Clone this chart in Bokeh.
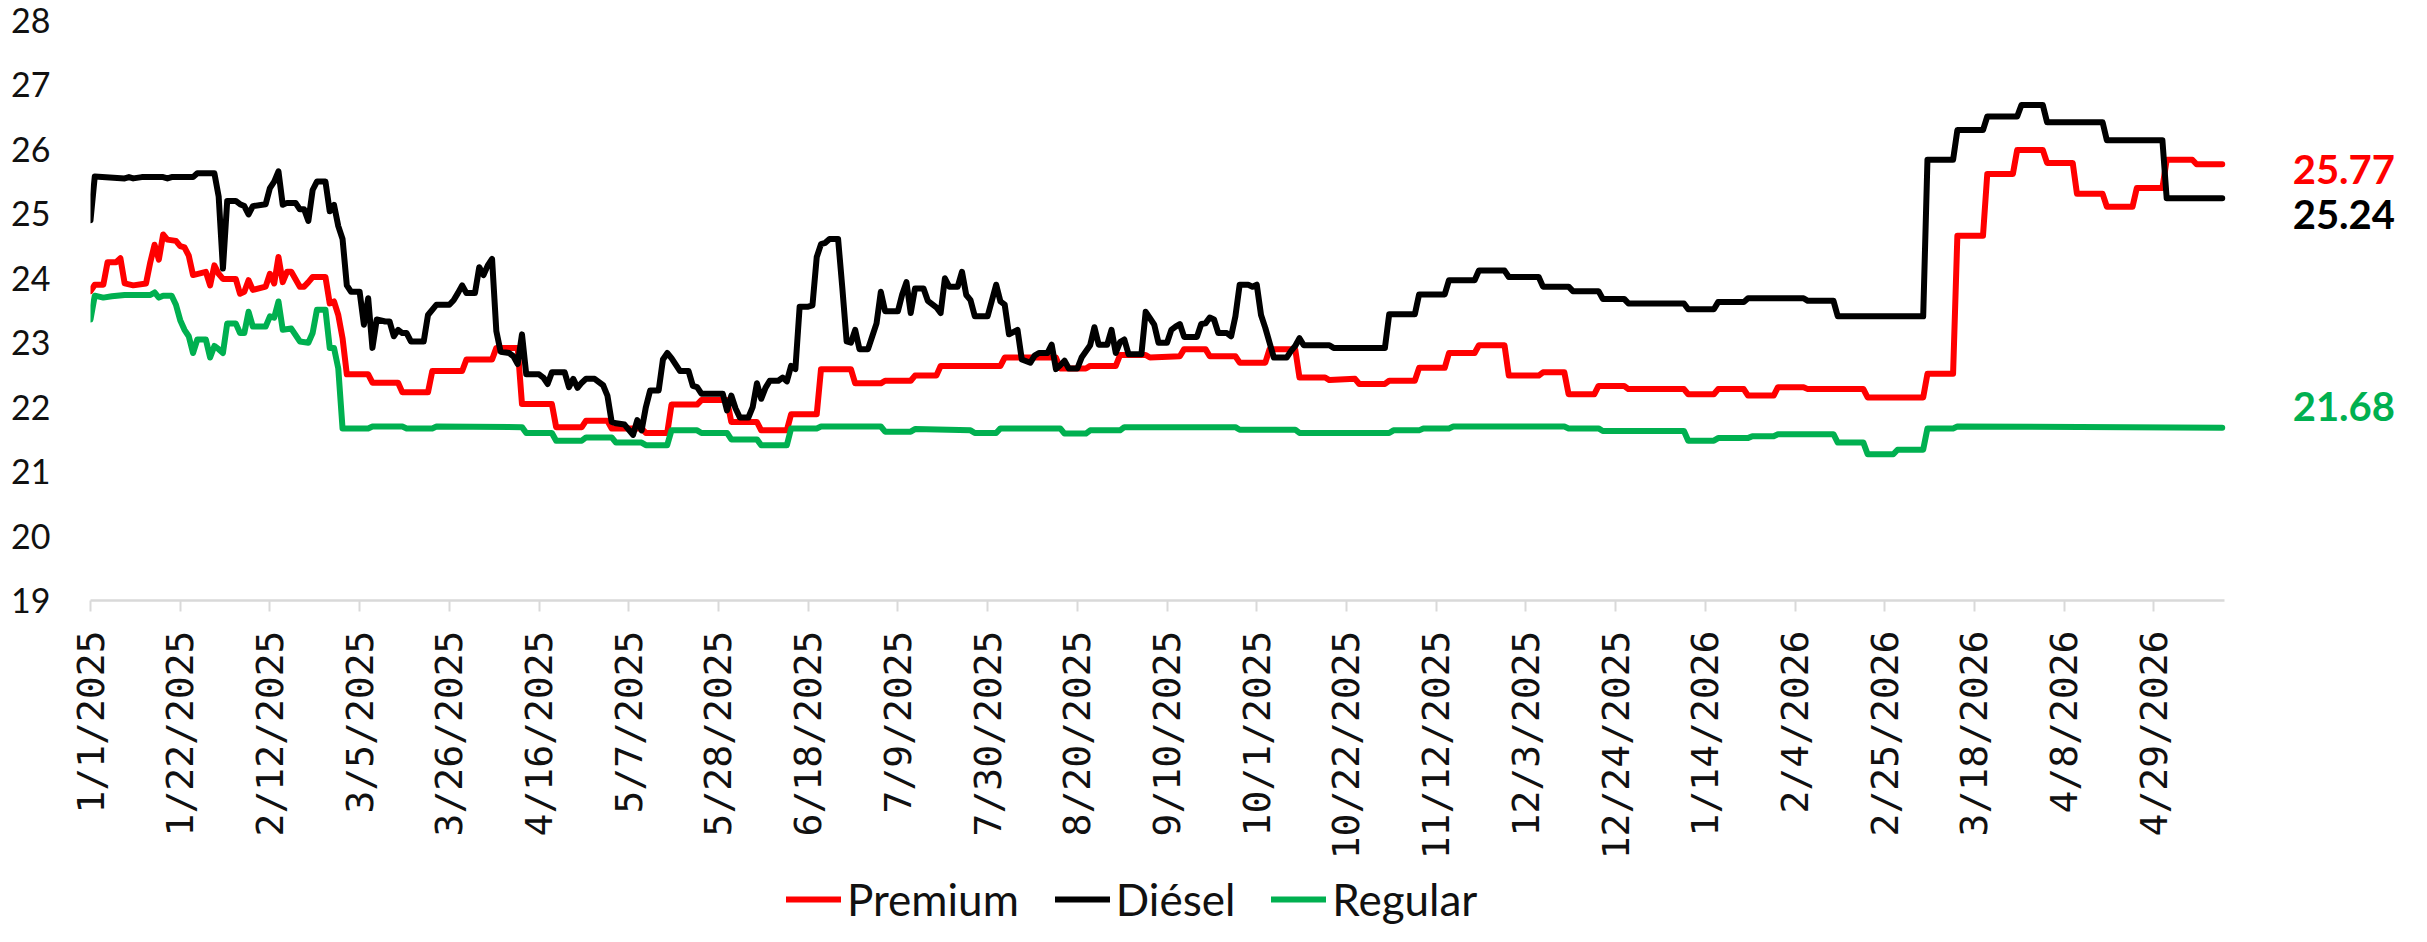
import math
import datetime
from bokeh.plotting import figure
from bokeh.layouts import column
from bokeh.models import Range1d, FixedTicker, Legend, LegendItem, Label
from bokeh.embed import file_html
from bokeh.resources import INLINE

# ---------------- data (days since 1/1/2025, price) ----------------
START = datetime.date(2025, 1, 1)

tick_labels = ["1/1/2025", "1/22/2025", "2/12/2025", "3/5/2025", "3/26/2025", "4/16/2025",
               "5/7/2025", "5/28/2025", "6/18/2025", "7/9/2025", "7/30/2025", "8/20/2025",
               "9/10/2025", "10/1/2025", "10/22/2025", "11/12/2025", "12/3/2025", "12/24/2025",
               "1/14/2026", "2/4/2026", "2/25/2026", "3/18/2026", "4/8/2026", "4/29/2026"]

y_ticks = [19, 20, 21, 22, 23, 24, 25, 26, 27, 28]

premium = [(0, 23.80), (1, 23.90), (3, 23.90), (4, 24.25), (6, 24.25), (7, 24.31), (8, 23.92),
           (10, 23.89), (13, 23.92), (14, 24.25), (15, 24.52), (16, 24.29), (17, 24.68), (18, 24.60),
           (20, 24.58), (21, 24.50), (22, 24.48), (23, 24.35), (24, 24.05), (27, 24.10), (28, 23.89),
           (29, 24.20), (30, 24.07), (31, 23.99), (34, 23.99), (35, 23.76), (36, 23.79), (37, 23.97),
           (38, 23.82), (41, 23.87), (42, 24.07), (43, 23.92), (44, 24.33), (45, 23.94), (46, 24.10),
           (47, 24.10), (49, 23.87), (50, 23.87), (51, 23.94), (52, 24.02), (55, 24.02), (56, 23.61),
           (57, 23.64), (58, 23.43), (59, 23.07), (60, 22.51), (65, 22.51), (66, 22.38), (72, 22.38),
           (73, 22.23), (79, 22.23), (80, 22.56), (87, 22.56), (88, 22.74), (94, 22.74), (95, 22.92),
           (100, 22.92), (101, 22.05), (108, 22.05), (109, 21.69), (115, 21.69), (116, 21.79),
           (121, 21.79), (122, 21.67), (129, 21.67), (130, 21.60), (135, 21.60), (136, 22.04),
           (142, 22.04), (143, 22.11), (149, 22.11), (150, 21.77), (156, 21.77), (157, 21.64),
           (163, 21.64), (164, 21.89), (170, 21.89), (171, 22.59), (178, 22.59), (179, 22.37),
           (185, 22.37), (186, 22.41), (192, 22.41), (193, 22.49), (198, 22.49), (199, 22.64),
           (213, 22.64), (214, 22.77), (226, 22.77), (227, 22.60), (233, 22.60), (234, 22.64),
           (240, 22.64), (241, 22.81), (247, 22.81), (248, 22.77), (255, 22.79), (256, 22.90),
           (261, 22.90), (262, 22.79), (268, 22.79), (269, 22.69), (275, 22.69), (276, 22.90),
           (282, 22.90), (283, 22.46), (289, 22.46), (290, 22.42), (296, 22.44), (297, 22.36),
           (303, 22.36), (304, 22.41), (310, 22.41), (311, 22.61), (317, 22.61), (318, 22.84),
           (324, 22.84), (325, 22.96), (331, 22.96), (332, 22.49), (339, 22.49), (340, 22.54),
           (345, 22.54), (346, 22.20), (352, 22.20), (353, 22.33), (359, 22.33), (360, 22.28),
           (373, 22.28), (374, 22.20), (380, 22.20), (381, 22.28), (387, 22.28), (388, 22.18),
           (394, 22.18), (395, 22.31), (401, 22.31), (402, 22.28), (415, 22.28), (416, 22.15),
           (429, 22.15), (430, 22.52), (436, 22.52), (437, 24.66), (443, 24.66), (444, 25.62),
           (450, 25.62), (451, 25.99), (457, 25.99), (458, 25.79), (464, 25.79), (465, 25.31),
           (471, 25.31), (472, 25.11), (478, 25.11), (479, 25.40), (485, 25.40), (486, 25.84),
           (492, 25.84), (493, 25.77), (499, 25.77)]

diesel = [(0, 24.90), (1, 25.58), (8, 25.55), (9, 25.57), (10, 25.55), (12, 25.57), (17, 25.57),
          (18, 25.55), (19, 25.57), (24, 25.57), (25, 25.63), (29, 25.63), (30, 25.27), (31, 24.15),
          (32, 25.20), (34, 25.20), (35, 25.15), (36, 25.12), (37, 24.99), (38, 25.12), (41, 25.15),
          (42, 25.40), (43, 25.50), (44, 25.66), (45, 25.14), (46, 25.17), (48, 25.17), (49, 25.07),
          (50, 25.07), (51, 24.89), (52, 25.37), (53, 25.50), (55, 25.50), (56, 25.04), (57, 25.14),
          (58, 24.81), (59, 24.61), (60, 23.89), (61, 23.79), (63, 23.79), (64, 23.28), (65, 23.69),
          (66, 22.92), (67, 23.36), (69, 23.33), (70, 23.33), (71, 23.10), (72, 23.20), (73, 23.15),
          (74, 23.15), (75, 23.02), (78, 23.02), (79, 23.43), (81, 23.59), (84, 23.59), (85, 23.66),
          (86, 23.77), (87, 23.89), (88, 23.77), (90, 23.77), (91, 24.17), (92, 24.05), (93, 24.20),
          (94, 24.30), (95, 23.18), (96, 22.86), (98, 22.84), (99, 22.79), (100, 22.67), (101, 23.13),
          (102, 22.51), (105, 22.51), (106, 22.46), (107, 22.36), (108, 22.54), (111, 22.54),
          (112, 22.31), (113, 22.44), (114, 22.30), (115, 22.38), (116, 22.44), (118, 22.44),
          (120, 22.34), (121, 22.18), (122, 21.77), (123, 21.75), (125, 21.73), (127, 21.57),
          (128, 21.80), (129, 21.64), (130, 22.00), (131, 22.26), (133, 22.26), (134, 22.74),
          (135, 22.84), (136, 22.76), (137, 22.66), (138, 22.56), (140, 22.56), (141, 22.33),
          (142, 22.31), (143, 22.21), (148, 22.21), (149, 21.95), (150, 22.18), (151, 21.98),
          (152, 21.84), (154, 21.84), (155, 22.00), (156, 22.37), (157, 22.13), (158, 22.30),
          (159, 22.41), (161, 22.41), (162, 22.46), (163, 22.40), (164, 22.64), (165, 22.59),
          (166, 23.56), (168, 23.56), (169, 23.58), (170, 24.33), (171, 24.53), (172, 24.55),
          (173, 24.61), (175, 24.61), (176, 23.84), (177, 23.02), (178, 23.00), (179, 23.20),
          (180, 22.90), (182, 22.90), (183, 23.10), (184, 23.30), (185, 23.79), (186, 23.49),
          (189, 23.49), (190, 23.75), (191, 23.94), (192, 23.46), (193, 23.84), (195, 23.84),
          (196, 23.65), (197, 23.60), (198, 23.55), (199, 23.46), (200, 24.00), (201, 23.87),
          (203, 23.87), (204, 24.10), (205, 23.74), (206, 23.66), (207, 23.41), (210, 23.41),
          (212, 23.90), (213, 23.64), (214, 23.59), (215, 23.13), (217, 23.20), (218, 22.74),
          (220, 22.69), (221, 22.80), (222, 22.84), (224, 22.84), (225, 22.97), (226, 22.59),
          (227, 22.65), (228, 22.72), (229, 22.60), (231, 22.60), (232, 22.77), (234, 22.96),
          (235, 23.24), (236, 22.97), (238, 22.97), (239, 23.20), (240, 22.84), (241, 23.01),
          (242, 23.05), (243, 22.82), (246, 22.82), (247, 23.48), (248, 23.38), (249, 23.28),
          (250, 23.00), (252, 23.00), (253, 23.20), (254, 23.25), (255, 23.29), (256, 23.09),
          (259, 23.09), (260, 23.29), (261, 23.30), (262, 23.39), (263, 23.36), (264, 23.15),
          (266, 23.15), (267, 23.10), (268, 23.41), (269, 23.90), (271, 23.90), (272, 23.87),
          (273, 23.90), (274, 23.43), (275, 23.23), (276, 23.00), (277, 22.77), (280, 22.77),
          (281, 22.87), (282, 22.95), (283, 23.07), (284, 22.96), (290, 22.96), (291, 22.92),
          (303, 22.92), (304, 23.44), (310, 23.44), (311, 23.75), (317, 23.75), (318, 23.97),
          (324, 23.97), (325, 24.12), (331, 24.12), (332, 24.02), (339, 24.02), (340, 23.87),
          (346, 23.87), (347, 23.80), (353, 23.80), (354, 23.68), (359, 23.68), (360, 23.61),
          (373, 23.61), (374, 23.52), (380, 23.52), (381, 23.63), (387, 23.63), (388, 23.69),
          (401, 23.69), (402, 23.65), (408, 23.65), (409, 23.41), (429, 23.41), (430, 25.84),
          (436, 25.84), (437, 26.30), (443, 26.30), (444, 26.51), (451, 26.51), (452, 26.69),
          (457, 26.69), (458, 26.42), (471, 26.42), (472, 26.14), (485, 26.14), (486, 25.24),
          (499, 25.24)]

regular = [(0, 23.36), (1, 23.73), (3, 23.70), (5, 23.72), (8, 23.74), (14, 23.74), (15, 23.78),
           (16, 23.70), (17, 23.73), (19, 23.73), (20, 23.59), (21, 23.35), (22, 23.20), (23, 23.10),
           (24, 22.84), (25, 23.05), (27, 23.05), (28, 22.77), (29, 22.95), (30, 22.90), (31, 22.84),
           (32, 23.30), (34, 23.30), (35, 23.15), (36, 23.15), (37, 23.48), (38, 23.25), (41, 23.25),
           (42, 23.41), (43, 23.39), (44, 23.64), (45, 23.20), (47, 23.22), (49, 23.02), (51, 23.00),
           (52, 23.15), (53, 23.51), (55, 23.51), (56, 22.92), (57, 22.92), (58, 22.60), (59, 21.67),
           (65, 21.67), (66, 21.70), (73, 21.70), (74, 21.67), (80, 21.67), (81, 21.70), (101, 21.69),
           (102, 21.60), (108, 21.60), (109, 21.48), (115, 21.48), (116, 21.53), (122, 21.53),
           (123, 21.45), (129, 21.45), (130, 21.41), (135, 21.41), (136, 21.64), (142, 21.64),
           (143, 21.60), (149, 21.60), (150, 21.50), (156, 21.50), (157, 21.41), (163, 21.41),
           (164, 21.67), (170, 21.67), (171, 21.70), (185, 21.70), (186, 21.62), (192, 21.62),
           (193, 21.66), (206, 21.64), (207, 21.60), (212, 21.60), (213, 21.67), (227, 21.67),
           (228, 21.59), (233, 21.59), (234, 21.64), (241, 21.64), (242, 21.69), (268, 21.69),
           (269, 21.65), (282, 21.65), (283, 21.60), (304, 21.60), (305, 21.64), (311, 21.64),
           (312, 21.67), (318, 21.67), (319, 21.70), (345, 21.70), (346, 21.67), (353, 21.67),
           (354, 21.63), (373, 21.63), (374, 21.48), (380, 21.48), (381, 21.52), (388, 21.52),
           (389, 21.55), (394, 21.55), (395, 21.58), (408, 21.58), (409, 21.45), (415, 21.45),
           (416, 21.27), (422, 21.27), (423, 21.34), (429, 21.34), (430, 21.67), (436, 21.67),
           (437, 21.70), (499, 21.68)]

series_names = ["Premium", "Diésel", "Regular"]
last_values = ["25.77", "25.24", "21.68"]

# ---------------- styling ----------------
RED, BLACK, GREEN = "#FF0000", "#000000", "#00B050"
COLORS = [RED, BLACK, GREEN]
AXIS_GREY = "#D9D9D9"
PX_PER_DAY = 4.272


def to_day(s):
    m, d, y = (int(t) for t in s.split("/"))
    return (datetime.date(y, m, d) - START).days


tick_days = [to_day(s) for s in tick_labels]
last_day = premium[-1][0]
all_series = [premium, diesel, regular]

W = 2411
H_MAIN, H_LEG = 862, 64
LEFT, TOP = 90, 20
FRAME_H = 581
x_end = (W - LEFT) / PX_PER_DAY  # frame reaches the right edge so the value labels fit in it

p = figure(width=W, height=H_MAIN, output_backend="svg", toolbar_location=None,
           x_range=Range1d(0, x_end), y_range=Range1d(19, 28),
           min_border_left=LEFT, min_border_right=0, min_border_top=TOP,
           min_border_bottom=H_MAIN - TOP - FRAME_H)
p.outline_line_color = None
p.xgrid.visible = False
p.ygrid.visible = False
p.background_fill_color = "white"
p.border_fill_color = "white"

# x axis
xa = p.xaxis[0]
xa.bounds = (0, last_day + 0.5)
xa.ticker = FixedTicker(ticks=tick_days)
xa.major_label_overrides = {d: s for d, s in zip(tick_days, tick_labels)}
xa.major_label_orientation = math.pi / 2
xa.axis_line_color = AXIS_GREY
xa.axis_line_width = 2.5
xa.major_tick_line_color = AXIS_GREY
xa.major_tick_line_width = 2
xa.major_tick_out = 11
xa.major_tick_in = 0
xa.minor_tick_line_color = None
xa.major_label_standoff = 19
xa.major_label_text_font = "DejaVu Sans Mono"
xa.major_label_text_font_size = "38px"
xa.major_label_text_color = "#111111"

# y axis
ya = p.yaxis[0]
ya.ticker = FixedTicker(ticks=y_ticks)
ya.axis_line_color = None
ya.major_tick_line_color = None
ya.minor_tick_line_color = None
ya.major_tick_out = 0
ya.major_tick_in = 0
ya.major_label_standoff = 40
ya.major_label_text_font = "Lato"
ya.major_label_text_font_size = "34px"
ya.major_label_text_color = "#111111"

for data, color in zip(all_series, COLORS):
    p.line([d for d, _ in data], [v for _, v in data], line_color=color, line_width=6,
           line_join="round", line_cap="round")

# end-of-line value labels
offsets = [-5, -16, 21]
label_x = last_day + 16.5
for txt, data, color, off in zip(last_values, all_series, COLORS, offsets):
    p.add_layout(Label(x=label_x, y=data[-1][1], text=txt, text_color=color, text_font="Lato",
                       text_font_style="bold", text_font_size="40px", text_baseline="middle",
                       text_align="left", y_offset=off))

# legend strip below the chart
pl = figure(width=W, height=H_LEG, output_backend="svg", toolbar_location=None,
            x_range=Range1d(0, x_end), y_range=Range1d(19, 28), min_border=0)
pl.outline_line_color = None
pl.axis.visible = False
pl.grid.visible = False
pl.border_fill_color = "white"
leg_renderers = []
for data, color in zip(all_series, COLORS):
    r = pl.line([d for d, _ in data], [v for _, v in data], line_color=color, line_width=6,
                line_cap="round", visible=False)
    leg_renderers.append(r)

legend = Legend(items=[LegendItem(label=n, renderers=[r]) for n, r in zip(series_names, leg_renderers)],
                orientation="horizontal", location=(696, 1),
                glyph_width=55, glyph_height=52, label_height=52, label_standoff=6,
                spacing=36, padding=0, margin=0, border_line_color=None,
                background_fill_alpha=0, inactive_fill_alpha=0,
                label_text_font="Lato", label_text_font_size="44px",
                label_text_color="#111111")
pl.add_layout(legend, "center")

open("out.html", "w").write(file_html(column(p, pl), INLINE))
